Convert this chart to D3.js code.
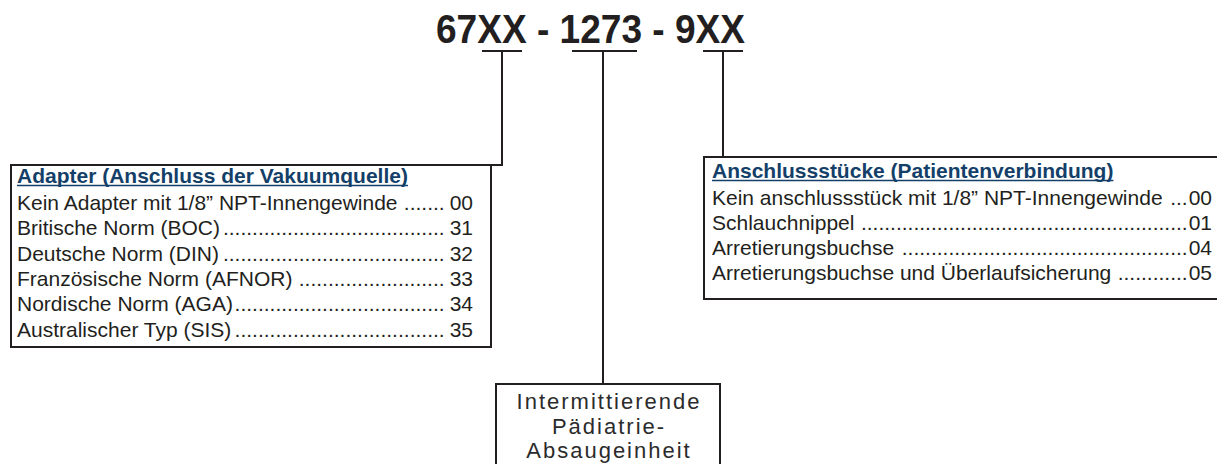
<!DOCTYPE html>
<html>
<head>
<meta charset="utf-8">
<script src="https://cdn.jsdelivr.net/npm/d3@7"></script>
<style>
  body { margin: 0; background: #fff; }
  text { font-family: "Liberation Sans", Arial, sans-serif; }
</style>
</head>
<body>
<div id="chart"></div>
<script>
// Order code parts
const codeParts = ["67XX", "1273", "9XX"];

// Adapter options (left box)
const adapterTitle = "Adapter (Anschluss der Vakuumquelle)";
const adapterLabels = [
    "Kein Adapter mit 1/8\u201D NPT-Innengewinde ",
    "Britische Norm (BOC)",
    "Deutsche Norm (DIN)",
    "Franz\u00F6sische Norm (AFNOR) ",
    "Nordische Norm (AGA)",
    "Australischer Typ (SIS)"
];
const adapterCodes = ["00", "31", "32", "33", "34", "35"];

// Fittings options (right box)
const fittingTitle = "Anschlussst\u00FCcke (Patientenverbindung)";
const fittingLabels = [
    "Kein anschlussst\u00FCck mit 1/8\u201D NPT-Innengewinde ",
    "Schlauchnippel ",
    "Arretierungsbuchse ",
    "Arretierungsbuchse und \u00DCberlaufsicherung "
];
const fittingCodes = ["00", "01", "04", "05"];

// Unit description (bottom box)
const unitLines = ["Intermittierende", "P\u00E4diatrie-", "Absaugeinheit"];

const width = 1217;
const height = 464;
const ink = "#231f20";
const blue = "#143f69";

const svg = d3.select("#chart")
    .append("svg")
    .attr("width", width)
    .attr("height", height);

// Title code
svg.append("text")
    .attr("x", 436)
    .attr("y", 43)
    .attr("font-size", 40)
    .attr("font-weight", "bold")
    .attr("fill", ink)
    .attr("textLength", 309)
    .attr("lengthAdjust", "spacingAndGlyphs")
    .text(codeParts.join(" - "));

// Underlines + connectors, one per code part
const connectors = [
    { x1: 482, x2: 522, cx: 502, y2: 165 },
    { x1: 572, x2: 637, cx: 603, y2: 384 },
    { x1: 703, x2: 743, cx: 723, y2: 157 }
];

svg.selectAll(".underline")
    .data(connectors)
    .enter()
    .append("line")
    .attr("x1", d => d.x1)
    .attr("x2", d => d.x2)
    .attr("y1", 51)
    .attr("y2", 51)
    .attr("stroke", ink)
    .attr("stroke-width", 2);

svg.selectAll(".stem")
    .data(connectors)
    .enter()
    .append("line")
    .attr("x1", d => d.cx)
    .attr("x2", d => d.cx)
    .attr("y1", 51)
    .attr("y2", d => d.y2)
    .attr("stroke", ink)
    .attr("stroke-width", 2);

// small elbow from left stem into the left box
svg.append("line")
    .attr("x1", 490).attr("x2", 503)
    .attr("y1", 165).attr("y2", 165)
    .attr("stroke", ink).attr("stroke-width", 2);

// helper: draw a list box with heading, leader dots and codes
function drawList(opts) {
    const g = svg.append("g");

    g.append("rect")
        .attr("x", opts.x)
        .attr("y", opts.y)
        .attr("width", opts.w)
        .attr("height", opts.h)
        .attr("fill", "#fff")
        .attr("stroke", ink)
        .attr("stroke-width", 2);

    const head = g.append("text")
        .attr("x", opts.textX)
        .attr("y", opts.headY)
        .attr("font-size", 21)
        .attr("font-weight", "bold")
        .attr("fill", blue)
        .text(opts.title);

    const headLen = head.node().getComputedTextLength();
    g.append("line")
        .attr("x1", opts.textX)
        .attr("x2", opts.textX + headLen)
        .attr("y1", opts.headY + 2.5)
        .attr("y2", opts.headY + 2.5)
        .attr("stroke", blue)
        .attr("stroke-width", 1.6);

    // measure one dot
    const probe = g.append("text").attr("font-size", 21).text(".");
    const dotW = probe.node().getComputedTextLength();
    probe.remove();

    opts.labels.forEach((label, i) => {
        const y = opts.rowY + i * opts.rowStep;

        const lab = g.append("text")
            .attr("x", opts.textX)
            .attr("y", y)
            .attr("font-size", 21)
            .attr("fill", ink)
            .style("white-space", "pre")
            .text(label);

        const code = g.append("text")
            .attr("x", opts.codeRight)
            .attr("y", y)
            .attr("font-size", 21)
            .attr("fill", ink)
            .attr("text-anchor", "end")
            .text(opts.codes[i]);

        const labEnd = opts.textX + lab.node().getComputedTextLength();
        const codeStart = opts.codeRight - code.node().getComputedTextLength() - opts.gap;
        const n = Math.max(0, Math.floor((codeStart - labEnd) / dotW));

        g.append("text")
            .attr("x", codeStart)
            .attr("y", y)
            .attr("font-size", 21)
            .attr("fill", ink)
            .attr("text-anchor", "end")
            .text(".".repeat(n));
    });
}

drawList({
    x: 11, y: 165, w: 480, h: 182,
    textX: 17, headY: 183, rowY: 210, rowStep: 25.3,
    codeRight: 473, gap: 5,
    title: adapterTitle, labels: adapterLabels, codes: adapterCodes
});

drawList({
    x: 704, y: 157, w: 530, h: 142,
    textX: 712, headY: 178, rowY: 205, rowStep: 25,
    codeRight: 1212, gap: 1,
    title: fittingTitle, labels: fittingLabels, codes: fittingCodes
});

// bottom box
svg.append("rect")
    .attr("x", 496)
    .attr("y", 384)
    .attr("width", 224)
    .attr("height", 110)
    .attr("fill", "#fff")
    .attr("stroke", ink)
    .attr("stroke-width", 2);

svg.selectAll(".unit")
    .data(unitLines)
    .enter()
    .append("text")
    .attr("x", 609)
    .attr("y", (d, i) => 409 + i * 24.5)
    .attr("font-size", 22)
    .attr("letter-spacing", 2)
    .attr("text-anchor", "middle")
    .attr("fill", "#2b2b2b")
    .text(d => d);
</script>
</body>
</html>
